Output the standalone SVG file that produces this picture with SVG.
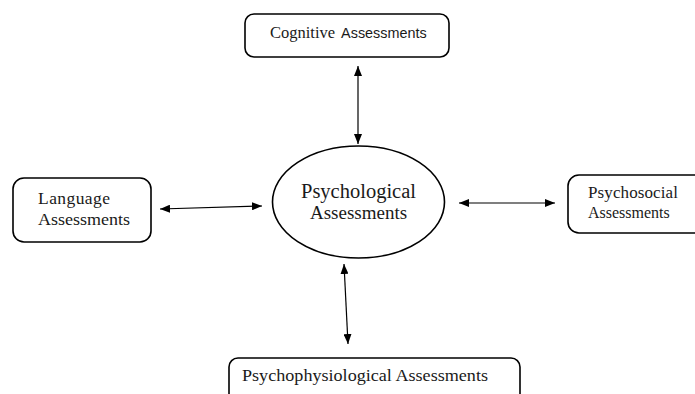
<svg xmlns="http://www.w3.org/2000/svg" width="695" height="394" viewBox="0 0 695 394">
<style>
.box{fill:#fff;stroke:#000;stroke-width:1.6}
.t{font-family:"Liberation Serif","Times New Roman",serif;fill:#1a1a1a}
.s{font-family:"Liberation Sans",Arial,sans-serif;fill:#1a1a1a}
.c{stroke:#000;stroke-width:1.2;fill:none;marker-start:url(#ah);marker-end:url(#ah)}
</style>
<defs>
<marker id="ah" viewBox="0 0 10 8" refX="10" refY="4" markerWidth="10" markerHeight="8" markerUnits="userSpaceOnUse" orient="auto-start-reverse">
<path d="M0,0 L10,4 L0,8 Z" fill="#000"/>
</marker>
</defs>
<rect width="695" height="394" fill="#fff"/>
<g id="connectors">
<line class="c" x1="358" y1="66" x2="358" y2="144"/>
<line class="c" x1="160" y1="209" x2="262" y2="206"/>
<line class="c" x1="459" y1="203" x2="555" y2="203"/>
<line class="c" x1="344" y1="264" x2="348" y2="344"/>
</g>
<g id="psychological">
<ellipse cx="358.5" cy="202" rx="86" ry="56" fill="#fff" stroke="#000" stroke-width="1.6"/>
<text class="t" x="358.5" y="198" font-size="20.5" text-anchor="middle">Psychological</text>
<text class="t" x="358.5" y="219" font-size="19" text-anchor="middle">Assessments</text>
</g>
<g id="cognitive">
<rect class="box" x="245" y="14" width="204" height="43" rx="9"/>
<text x="270" y="38"><tspan class="t" font-size="16.5">Cognitive</tspan><tspan class="s" font-size="14.4" dx="6">Assessments</tspan></text>
</g>
<g id="language">
<rect class="box" x="13" y="178" width="138" height="64" rx="11"/>
<text class="t" x="38" y="204" font-size="17.5" textLength="72">Language</text>
<text class="t" x="38" y="225" font-size="17" textLength="92" lengthAdjust="spacingAndGlyphs">Assessments</text>
</g>
<g id="psychosocial">
<rect class="box" x="568" y="175" width="140" height="58" rx="11"/>
<text class="t" x="588" y="198" font-size="17" textLength="90">Psychosocial</text>
<text class="t" x="588" y="218" font-size="16">Assessments</text>
</g>
<g id="psychophysiological">
<rect class="box" x="229" y="358" width="291" height="50" rx="9"/>
<text class="t" x="242" y="381" font-size="17.5" textLength="246" lengthAdjust="spacingAndGlyphs">Psychophysiological Assessments</text>
</g>
</svg>
